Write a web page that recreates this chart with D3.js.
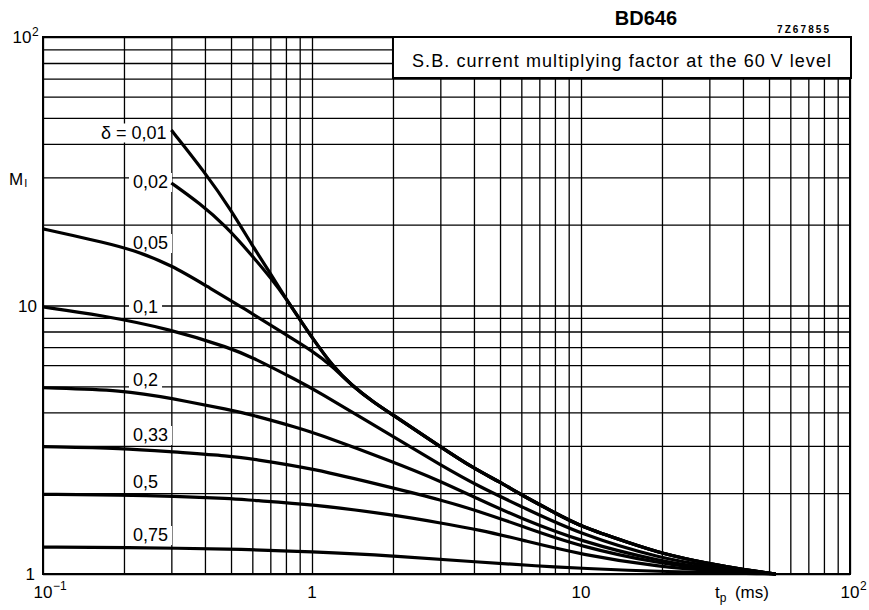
<!DOCTYPE html>
<html><head><meta charset="utf-8">
<script src="https://cdn.jsdelivr.net/npm/d3@7"></script>
<style>body{margin:0;background:#fff}svg{display:block}text{font-family:"Liberation Sans",Arial,sans-serif;fill:#000}</style>
</head><body><svg id="c" width="869" height="610"></svg>
<script>
// ---- data ----
const seriesNames = ["0,01","0,02","0,05","0,1","0,2","0,33","0,5","0,75"];
const t001 = [0.3, 0.4, 0.5, 0.6, 0.7, 0.8, 0.9, 1.0, 1.2, 1.4, 1.7, 2, 3, 4, 5, 6, 8, 10, 15, 20, 30, 40, 53];
const m001 = [45, 31.3, 22.7, 16.7, 13.2, 10.6, 8.9, 7.6, 5.9, 5.05, 4.35, 3.91, 2.98, 2.47, 2.2, 1.97, 1.69, 1.50, 1.31, 1.19, 1.09, 1.04, 1.0];
const t002 = [0.3, 0.383, 0.48, 0.59, 0.72, 0.8, 0.9, 1.0, 1.2, 1.4, 1.7, 2, 3, 4, 5, 6, 8, 10, 15, 20, 30, 40, 53];
const m002 = [28.6, 24.0, 19.7, 15.6, 12.3, 10.6, 8.9, 7.6, 5.9, 5.05, 4.35, 3.91, 2.98, 2.47, 2.2, 1.97, 1.69, 1.50, 1.31, 1.19, 1.09, 1.04, 1.0];
const t005 = [0.1, 0.13, 0.163, 0.217, 0.3, 0.406, 0.564, 0.78, 1.0, 1.2, 1.4, 1.7, 2, 3, 4, 5, 6, 8, 10, 15, 20, 30, 40, 53];
const m005 = [19.3, 18.2, 17.3, 16.1, 14.15, 11.8, 9.7, 7.9, 6.8, 5.9, 5.05, 4.35, 3.91, 2.98, 2.47, 2.2, 1.97, 1.69, 1.50, 1.31, 1.19, 1.09, 1.04, 1.0];
const t01 = [0.1, 0.163, 0.3, 0.5, 0.6, 0.9, 1.0, 2, 3, 4.2, 6, 10, 20, 30, 53];
const m01 = [9.87, 9.22, 8.15, 6.93, 6.41, 5.2, 4.92, 3.25, 2.55, 2.11, 1.785, 1.40, 1.14, 1.07, 1.0];
const t02 = [0.1, 0.2, 0.3, 0.5, 0.6, 0.9, 1.0, 2, 3, 4.2, 6, 10, 20, 30, 53];
const m02 = [4.94, 4.84, 4.51, 4.08, 3.91, 3.49, 3.38, 2.62, 2.22, 1.89, 1.61, 1.32, 1.11, 1.05, 1.0];
const t033 = [0.1, 0.2, 0.3, 0.5, 0.6, 1.0, 2, 3, 4.2, 6, 10, 20, 30, 53];
const m033 = [2.98, 2.94, 2.85, 2.75, 2.68, 2.48, 2.09, 1.89, 1.71, 1.51, 1.26, 1.09, 1.04, 1.0];
const t05 = [0.1, 0.2, 0.3, 0.5, 0.6, 1.0, 2, 3, 4.2, 6, 10, 20, 30, 53];
const m05 = [1.98, 1.97, 1.95, 1.91, 1.88, 1.82, 1.66, 1.55, 1.46, 1.34, 1.18, 1.06, 1.03, 1.0];
const t075 = [0.1, 0.2, 0.5, 1.0, 2, 4, 7, 10, 20, 53];
const m075 = [1.26, 1.255, 1.24, 1.21, 1.17, 1.11, 1.07, 1.05, 1.02, 1.0];

const xTickValues = [0.1, 1, 10, 100];
const xTickBase = ["10", "1", "10", "10"];
const xTickExp = ["\u22121", "", "", "2"];
const yTickValues = [1, 10, 100];
const yTickBase = ["1", "10", "10"];
const yTickExp = ["", "", "2"];
const decades = [0.1, 1, 10];
const yDecades = [1, 10];

const chartTitle = "BD646";
const drawingCode = "7Z67855";
const boxTitle = "S.B. current multiplying factor at the 60\u2009V level";

// ---- layout ----
const L = 43, R = 850, T = 37, B = 574;
const svg = d3.select("#c");
const bgLayer = svg.append("g");
const gridLayer = svg.append("g");
const labelBgLayer = svg.append("g");
const curveLayer = svg.append("g");
const frameLayer = svg.append("g");
const textLayer = svg.append("g");

bgLayer.append("rect").attr("width", 869).attr("height", 610).attr("fill", "#fff");

const x = d3.scaleLog().domain([0.1, 100]).range([L, R]);
const y = d3.scaleLog().domain([1, 100]).range([B, T]);

const xGrid = decades.flatMap(d => d3.range(1, 10).map(k => k * d)).concat([100]);
const yGrid = yDecades.flatMap(d => d3.range(1, 10).map(k => k * d)).concat([100]);

gridLayer.append("g").attr("transform", `translate(0,${B})`)
  .call(d3.axisBottom(x).tickValues(xGrid).tickSize(-(B - T)).tickFormat(""))
  .call(g => g.select(".domain").remove())
  .call(g => g.selectAll("line").attr("stroke", "#000").attr("stroke-width", 1.3));
gridLayer.append("g").attr("transform", `translate(${L},0)`)
  .call(d3.axisLeft(y).tickValues(yGrid).tickSize(-(R - L)).tickFormat(""))
  .call(g => g.select(".domain").remove())
  .call(g => g.selectAll("line").attr("stroke", "#000").attr("stroke-width", 1.3));

// frame
frameLayer.append("rect").attr("x", L).attr("y", T).attr("width", R - L).attr("height", B - T)
  .attr("fill", "none").attr("stroke", "#000").attr("stroke-width", 2);

// title box
frameLayer.append("rect").attr("x", x(2)).attr("y", T).attr("width", R + 1 - x(2)).attr("height", 41)
  .attr("fill", "#fff").attr("stroke", "#000").attr("stroke-width", 2);
textLayer.append("text").attr("x", 412).attr("y", 67).attr("font-size", 18)
  .attr("textLength", 419).attr("lengthAdjust", "spacing").text(boxTitle);

textLayer.append("text").attr("x", 646).attr("y", 25).attr("text-anchor", "middle")
  .attr("font-size", 20).attr("font-weight", "bold").text(chartTitle);
textLayer.append("text").attr("x", 777).attr("y", 33).attr("font-size", 10).attr("font-weight", "bold")
  .attr("textLength", 52).attr("lengthAdjust", "spacing").text(drawingCode);

// series
const series = [
  {name: seriesNames[0], t: t001, m: m001},
  {name: seriesNames[1], t: t002, m: m002},
  {name: seriesNames[2], t: t005, m: m005},
  {name: seriesNames[3], t: t01, m: m01},
  {name: seriesNames[4], t: t02, m: m02},
  {name: seriesNames[5], t: t033, m: m033},
  {name: seriesNames[6], t: t05, m: m05},
  {name: seriesNames[7], t: t075, m: m075}
];
// label layout (baseline y, left x / right anchor)
const labelLayout = [
  {x: 166.5, y: 138.5, anchor: "end", prefix: "\u03b4 = "},
  {x: 133, y: 188, anchor: "start", prefix: ""},
  {x: 133, y: 249, anchor: "start", prefix: ""},
  {x: 133, y: 313, anchor: "start", prefix: ""},
  {x: 133, y: 386, anchor: "start", prefix: ""},
  {x: 133, y: 441, anchor: "start", prefix: ""},
  {x: 133, y: 488, anchor: "start", prefix: ""},
  {x: 133, y: 541, anchor: "start", prefix: ""}
];

series.forEach((s, i) => {
  const lo = labelLayout[i];
  const t = textLayer.append("text").attr("x", lo.x).attr("y", lo.y).attr("text-anchor", lo.anchor)
    .attr("font-size", 18).text(lo.prefix + s.name);
  const bb = t.node().getBBox();
  labelBgLayer.append("rect").attr("x", bb.x - 4).attr("y", lo.y - 15).attr("width", bb.width + 8)
    .attr("height", 19).attr("fill", "#fff");
});

const line = d3.line().x(d => x(d[0])).y(d => y(d[1])).curve(d3.curveBasis);
curveLayer.selectAll("path").data(series).join("path")
  .attr("d", s => line(s.t.map((tv, j) => [tv, s.m[j]])))
  .attr("fill", "none").attr("stroke", "#000").attr("stroke-width", 3.2)
  .attr("stroke-linejoin", "round").attr("stroke-linecap", "butt");

// axis tick labels
xTickValues.forEach((v, i) => {
  const t = textLayer.append("text").attr("x", x(v)).attr("y", 598).attr("text-anchor", "middle")
    .attr("font-size", 17).text(xTickBase[i]);
  if (xTickExp[i]) {
    const bb = t.node().getBBox();
    textLayer.append("text").attr("x", bb.x + bb.width + 0.5).attr("y", 590).attr("font-size", 12).text(xTickExp[i]);
  }
});
yTickValues.forEach((v, i) => {
  const yy = y(v) + 6;
  if (yTickExp[i]) {
    textLayer.append("text").attr("x", 31.5).attr("y", yy).attr("text-anchor", "end").attr("font-size", 17).text(yTickBase[i]);
    textLayer.append("text").attr("x", 32).attr("y", yy - 7).attr("font-size", 12).text(yTickExp[i]);
  } else {
    textLayer.append("text").attr("x", v === 1 ? 35 : 37).attr("y", yy).attr("text-anchor", "end").attr("font-size", 17).text(yTickBase[i]);
  }
});

// axis titles
const yt = textLayer.append("text").attr("x", 9).attr("y", 185).attr("font-size", 17);
yt.append("tspan").text("M");
yt.append("tspan").attr("font-size", 11).attr("dy", 2).attr("dx", 1).text("I");
const xt = textLayer.append("text").attr("x", 715).attr("y", 598).attr("font-size", 17);
xt.append("tspan").text("t");
xt.append("tspan").attr("font-size", 12).attr("dy", 4).text("p");
xt.append("tspan").attr("dy", -4).text("\u2002(ms)");
</script></body></html>
